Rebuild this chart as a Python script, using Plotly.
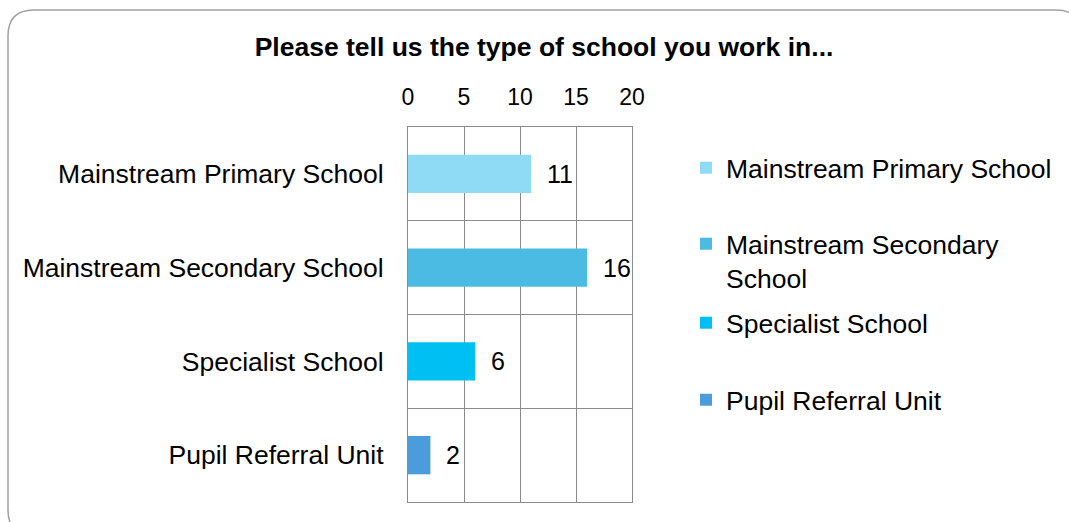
import plotly.graph_objects as go

# data
categories = ['Mainstream Primary School', 'Mainstream Secondary School',
              'Specialist School', 'Pupil Referral Unit']
legend_labels = ['Mainstream Primary School', 'Mainstream Secondary<br>School',
                 'Specialist School', 'Pupil Referral Unit']
counts = [11, 16, 6, 2]
colors = ['#8FDBF6', '#4CBBE3', '#00BFF2', '#4C9CDB']
x_ticks = [0, 5, 10, 15, 20]

W, H = 1069, 522
M_L, M_R, M_T, M_B = 408, 437, 127, 20
PW, PH = W - M_L - M_R, H - M_T - M_B
FONT = 'Liberation Sans, Arial, sans-serif'


def px(x):
    return (x - M_L) / PW


def py(y):
    return (H - M_B - y) / PH


def rounded_rect(x0, y0, x1, y1, r):
    return (f"M{px(x0 + r)},{py(y0)} L{px(x1 - r)},{py(y0)} "
            f"Q{px(x1)},{py(y0)} {px(x1)},{py(y0 + r)} "
            f"L{px(x1)},{py(y1 - r)} Q{px(x1)},{py(y1)} {px(x1 - r)},{py(y1)} "
            f"L{px(x0 + r)},{py(y1)} Q{px(x0)},{py(y1)} {px(x0)},{py(y1 - r)} "
            f"L{px(x0)},{py(y0 + r)} Q{px(x0)},{py(y0)} {px(x0 + r)},{py(y0)} Z")


fig = go.Figure()

legend_pos = [(168, 'middle'), (220, 'top'), (323, 'middle'), (400, 'middle')]
for i, cat in enumerate(categories):
    lg = 'legend' if i == 0 else f'legend{i + 1}'
    fig.add_trace(go.Bar(
        x=[counts[i]], y=[cat], orientation='h',
        name=legend_labels[i], marker=dict(color=colors[i], line=dict(width=0)),
        width=0.41, legend=lg, hoverinfo='x+y'
    ))
    fig.add_annotation(x=counts[i], y=cat, text=str(counts[i]), showarrow=False,
                       xanchor='left', xshift=14,
                       font=dict(family=FONT, size=25, color='#000000'))

legends = {}
for i, (ypix, anchor) in enumerate(legend_pos):
    key = 'legend' if i == 0 else f'legend{i + 1}'
    legends[key] = dict(
        x=px(686), y=py(ypix), xanchor='left', yanchor=anchor,
        font=dict(family=FONT, size=26.5, color='#000000'),
        bgcolor='rgba(0,0,0,0)', valign='top', itemwidth=30
    )

fig.update_layout(
    width=W, height=H,
    margin=dict(l=M_L, r=M_R, t=M_T, b=M_B),
    paper_bgcolor='white', plot_bgcolor='white',
    barmode='overlay',
    showlegend=True,
    title=dict(text='<b>Please tell us the type of school you work in...</b>',
               x=544 / W, xref='container', xanchor='center',
               y=1 - 47 / H, yref='container', yanchor='middle',
               font=dict(family=FONT, size=26.5, color='#000000')),
    xaxis=dict(side='top', range=[0, 20], tickvals=x_ticks,
               showgrid=True, gridcolor='#8C8C8C', gridwidth=1.3,
               showline=True, linecolor='#8C8C8C', linewidth=1.3, mirror=True,
               zeroline=False, ticks='', ticklabelstandoff=12,
               tickfont=dict(family=FONT, size=23, color='#000000'),
               fixedrange=True),
    yaxis=dict(categoryorder='array', categoryarray=categories,
               autorange='reversed', tickson='boundaries',
               showgrid=True, gridcolor='#8C8C8C', gridwidth=1.3,
               showline=True, linecolor='#8C8C8C', linewidth=1.3, mirror=True,
               ticks='', ticklabelstandoff=18,
               tickfont=dict(family=FONT, size=26.5, color='#000000'),
               fixedrange=True),
    shapes=[dict(type='path', xref='paper', yref='paper',
                 path=rounded_rect(8, 10, 1082, 536, 26),
                 line=dict(color='#A0A0A0', width=1.5), layer='below')],
    **legends
)

fig.write_html("out.html", config={'displayModeBar': False},
               post_script="document.body.style.margin='0';")
